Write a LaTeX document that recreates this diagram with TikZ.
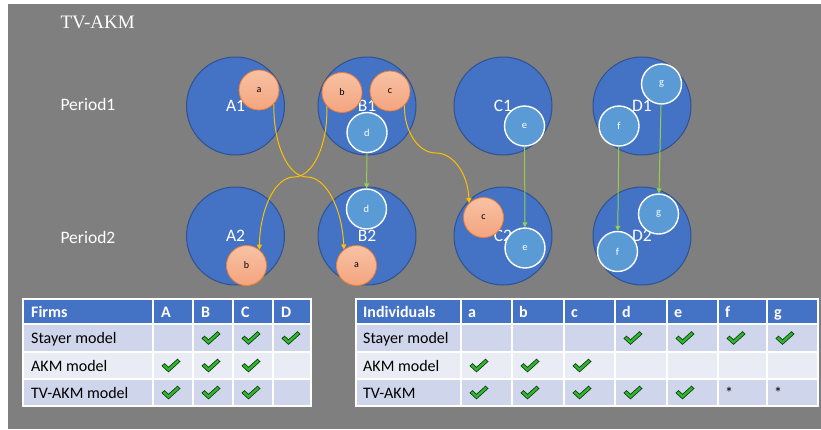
\documentclass[tikz,border=0pt]{standalone}
\usepackage{fontspec}
\setmainfont{Carlito}
\newfontfamily\titlefont{Liberation Serif}
\usetikzlibrary{arrows.meta}
\definecolor{bg}{HTML}{7F7F7F}
\definecolor{firm}{HTML}{4472C4}
\definecolor{firmline}{HTML}{2F528F}
\definecolor{indiv}{HTML}{5B9BD5}
\definecolor{orT}{HTML}{F7C2A4}
\definecolor{orB}{HTML}{F4A47E}
\definecolor{orline}{HTML}{ED7D31}
\definecolor{gold}{HTML}{FFC000}
\definecolor{lgreen}{HTML}{92D050}
\definecolor{rowA}{HTML}{CFD5EA}
\definecolor{rowB}{HTML}{E9EBF5}
\definecolor{chkgreen}{RGB}{44,186,44}
\definecolor{chkdark}{RGB}{25,60,25}
\tikzset{
  chk/.pic={\filldraw[fill=chkgreen,draw=chkdark,line width=0.7pt,line join=miter]
    (0,0.4) -- (2.5,-1.9) -- (6.5,1.8) -- (15.5,-6.3) -- (18,-4) -- (6.5,6.4) -- cycle;}
}
\begin{document}
\begin{tikzpicture}[x=1pt,y=-1pt,
  firmc/.style={circle, fill=firm, draw=firmline, line width=1pt, minimum size=98pt, inner sep=0pt, text=white, font=\fontsize{17.5}{20}\selectfont},
  mover/.style={circle, top color=orT, bottom color=orB, draw=orline, line width=0.8pt, minimum size=40pt, inner sep=0pt, text=black, font=\fontsize{10}{12}\selectfont},
  stayer/.style={circle, fill=indiv, draw=white, line width=1.4pt, minimum size=40pt, inner sep=0pt, text=white, font=\fontsize{10.5}{12}\selectfont},
  mv/.style={gold, line width=1pt, -{Triangle[length=5pt,width=5pt]}},
  sv/.style={lgreen, line width=1pt, -{Triangle[length=5pt,width=5pt]}},
  per/.style={anchor=west, text=white, font=\fontsize{17.5}{20}\selectfont},
  cell/.style={anchor=west, inner sep=0pt, yshift=-1.5pt, text height=11.5pt, text depth=3.5pt, font=\fontsize{16}{19}\selectfont, text=black},
  hd/.style={cell, text=white, font=\fontsize{16}{19}\selectfont\bfseries},
  grid/.style={white, line width=1.2pt}
]
\useasboundingbox (0,0) rectangle (821,429);
\fill[white] (0,0) rectangle (821,429);
\fill[bg] (8,4) rectangle (821,429);

% titles
\node[anchor=west, text=white, font=\titlefont\fontsize{19}{22}\selectfont] (title) at (57,22) {TV-AKM};
\node[per] (p1) at (57,104) {Period1};
\node[per] (p2) at (57,237) {Period2};

% firms
\node[firmc] (A1) at (235.5,106) {A1};
\node[firmc] (B1) at (367,106) {B1};
\node[firmc] (C1) at (503,106) {C1};
\node[firmc] (D1) at (642,106) {D1};
\node[firmc] (A2) at (235.5,236) {A2};
\node[firmc] (B2) at (367,236) {B2};
\node[firmc] (C2) at (503,236) {C2};
\node[firmc] (D2) at (642,236) {D2};

% individuals
\node[mover] (a1) at (259,90) {a};
\node[mover] (b1) at (342,92.5) {b};
\node[mover] (c1) at (390,91) {c};
\node[stayer] (d1) at (367,132.5) {d};
\node[stayer] (e1) at (524.5,126) {e};
\node[stayer] (f1) at (619,126) {f};
\node[stayer] (g1) at (661.5,84) {g};
\node[mover] (b2) at (246.5,265.5) {b};
\node[mover] (a2) at (356.5,265.5) {a};
\node[stayer] (d2) at (366.5,209) {d};
\node[mover] (c2) at (483.5,217.5) {c};
\node[stayer] (e2) at (525,248) {e};
\node[stayer] (f2) at (617.5,251.5) {f};
\node[stayer] (g2) at (658.5,214) {g};

% connectors
\draw[mv] (a1.-43) .. controls (273,144) and (288,177) .. (307,177) .. controls (326,177) and (342,208) .. (a2.128);
\draw[mv] (b1.-138) .. controls (328,145) and (313,177) .. (294,177) .. controls (275,177) and (260,209) .. (b2.51);
\draw[mv] (c1.-45) .. controls (404,131) and (418,153) .. (436,153) .. controls (454,153) and (468,175) .. (c2.135);
\draw[sv] (d1) -- (d2);
\draw[sv] (e1) -- (e2);
\draw[sv] (f1) -- (f2);
\draw[sv] (g1) -- (g2);

% Firms table
\fill[firm] (23,299) rectangle (311,324);
\fill[rowA] (23,324) rectangle (311,352);
\fill[rowB] (23,352) rectangle (311,379);
\fill[rowA] (23,379) rectangle (311,406);
\draw[grid] (23,299) rectangle (311,406);
\foreach \y in {324,352,379} \draw[grid] (23,\y) -- (311,\y);
\foreach \x in {153,193,233,273} \draw[grid] (\x,299) -- (\x,406);
\node[hd] (fh0) at (31,311.5) {Firms};
\foreach \t/\x [count=\i] in {A/161,B/201,C/241,D/281} \node[hd] (fh\i) at (\x,311.5) {\t};
\node[cell] (fr1) at (31,338) {Stayer model};
\node[cell] (fr2) at (31,365.5) {AKM model};
\node[cell] (fr3) at (31,392.5) {TV-AKM model};
\foreach \x in {193,233,273} \pic at (\x+9,338) {chk};
\foreach \x in {153,193,233} \pic at (\x+9,365.5) {chk};
\foreach \x in {153,193,233} \pic at (\x+9,392.5) {chk};

% Individuals table
\fill[firm] (356,299) rectangle (818,324);
\fill[rowA] (356,324) rectangle (818,352);
\fill[rowB] (356,352) rectangle (818,379);
\fill[rowA] (356,379) rectangle (818,406);
\draw[grid] (356,299) rectangle (818,406);
\foreach \y in {324,352,379} \draw[grid] (356,\y) -- (818,\y);
\foreach \x in {461,512,564,615,667,718,767} \draw[grid] (\x,299) -- (\x,406);
\node[hd] (ih0) at (363,311.5) {Individuals};
\foreach \t/\x [count=\i] in {a/468,b/519,c/571,d/622,e/674,f/725,g/774} \node[hd] (ih\i) at (\x,311.5) {\t};
\node[cell] (ir1) at (363,338) {Stayer model};
\node[cell] (ir2) at (363,365.5) {AKM model};
\node[cell] (ir3) at (363,392.5) {TV-AKM};
\foreach \x in {615,667,718,767} \pic at (\x+9,338) {chk};
\foreach \x in {461,512,564} \pic at (\x+9,365.5) {chk};
\foreach \x in {461,512,564,615,667} \pic at (\x+9,392.5) {chk};
\node[cell] (st1) at (725,392.5) {*};
\node[cell] (st2) at (774,392.5) {*};
\end{tikzpicture}
\end{document}
